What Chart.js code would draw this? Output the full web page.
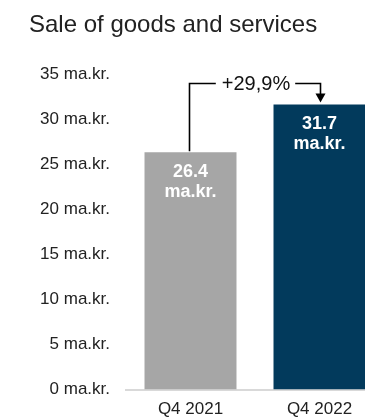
<!DOCTYPE html>
<html>
<head>
<meta charset="utf-8">
<script src="https://cdn.jsdelivr.net/npm/chart.js@4"></script>
<style>
  html, body { margin: 0; padding: 0; background: #fff; overflow: hidden; }
  #wrap { width: 384px; height: 419px; }
</style>
</head>
<body>
<div id="wrap"><canvas id="chart"></canvas></div>
<script>
// Datos del grafico
const categorias = ['Q4 2021', 'Q4 2022'];
const valores = [26.4, 31.7];
const coloresBarras = ['#a6a6a6', '#023a5c'];
const ticksY = [0, 5, 10, 15, 20, 25, 30, 35];
const unidad = 'ma.kr.';
const textoCambio = '+29,9%';

const FUENTE = 'Arial, "Liberation Sans", sans-serif';

// Etiquetas blancas dentro de las barras
const etiquetasBarras = {
    id: 'etiquetasBarras',
    afterDatasetsDraw(chart) {
        const ctx = chart.ctx;
        const meta = chart.getDatasetMeta(0);
        ctx.save();
        ctx.fillStyle = '#ffffff';
        ctx.font = 'bold 18px ' + FUENTE;
        ctx.textAlign = 'center';
        ctx.textBaseline = 'middle';
        meta.data.forEach((bar, i) => {
            ctx.fillText(valores[i].toFixed(1), bar.x, bar.y + 20);
            ctx.fillText(unidad, bar.x, bar.y + 40);
        });
        ctx.restore();
    }
};

// Corchete con flecha y porcentaje de cambio
const corcheteCambio = {
    id: 'corcheteCambio',
    afterDatasetsDraw(chart) {
        const ctx = chart.ctx;
        const meta = chart.getDatasetMeta(0);
        const b1 = meta.data[0];
        const b2 = meta.data[1];
        const yLinea = Math.round(chart.scales.y.getPixelForValue(34.1)) + 0.5;
        const xTexto = (b1.x + b2.x) / 2 + 1;

        ctx.save();
        ctx.font = '20px ' + FUENTE;
        const ancho = ctx.measureText(textoCambio).width;
        ctx.strokeStyle = '#000';
        ctx.lineWidth = 1.6;
        ctx.beginPath();
        ctx.moveTo(b1.x - 1, b1.y - 1);
        ctx.lineTo(b1.x - 1, yLinea);
        ctx.lineTo(xTexto - ancho / 2 - 6, yLinea);
        ctx.moveTo(xTexto + ancho / 2 + 5, yLinea);
        ctx.lineTo(b2.x + 1, yLinea);
        ctx.lineTo(b2.x + 1, b2.y - 10);
        ctx.stroke();

        // punta de flecha
        ctx.fillStyle = '#000';
        ctx.beginPath();
        ctx.moveTo(b2.x - 4, b2.y - 11);
        ctx.lineTo(b2.x + 6, b2.y - 11);
        ctx.lineTo(b2.x + 1, b2.y - 2);
        ctx.closePath();
        ctx.fill();

        ctx.fillStyle = '#111';
        ctx.textAlign = 'center';
        ctx.textBaseline = 'middle';
        ctx.fillText(textoCambio, xTexto, yLinea + 1);
        ctx.restore();
    }
};

new Chart(document.getElementById('chart'), {
    type: 'bar',
    data: {
        labels: categorias,
        datasets: [{
            data: valores,
            backgroundColor: coloresBarras,
            borderWidth: 0,
            barPercentage: 0.713,
            categoryPercentage: 1.0
        }]
    },
    options: {
        responsive: true,
        maintainAspectRatio: false,
        animation: false,
        layout: { padding: { left: 29, right: 0, top: 11, bottom: -11 } },
        plugins: {
            legend: { display: false },
            tooltip: { enabled: false },
            title: {
                display: true,
                text: 'Sale of goods and services',
                align: 'start',
                color: '#222',
                font: { family: FUENTE, size: 24, weight: 'normal' },
                padding: { top: 0, bottom: 35 }
            }
        },
        scales: {
            y: {
                min: 0,
                max: 35,
                afterBuildTicks(axis) {
                    axis.ticks = ticksY.map(v => ({ value: v }));
                },
                afterFit(axis) {
                    axis.width = 97;
                },
                grid: { display: false, drawTicks: false },
                border: { display: false },
                ticks: {
                    color: '#222',
                    padding: 16,
                    font: { family: FUENTE, size: 17 },
                    callback: v => v + ' ' + unidad
                }
            },
            x: {
                grid: { display: false, drawTicks: false },
                border: { display: true, color: '#d9d9d9', width: 2 },
                ticks: {
                    color: '#222',
                    padding: 10,
                    font: { family: FUENTE, size: 17 }
                }
            }
        }
    },
    plugins: [etiquetasBarras, corcheteCambio]
});
</script>
</body>
</html>
